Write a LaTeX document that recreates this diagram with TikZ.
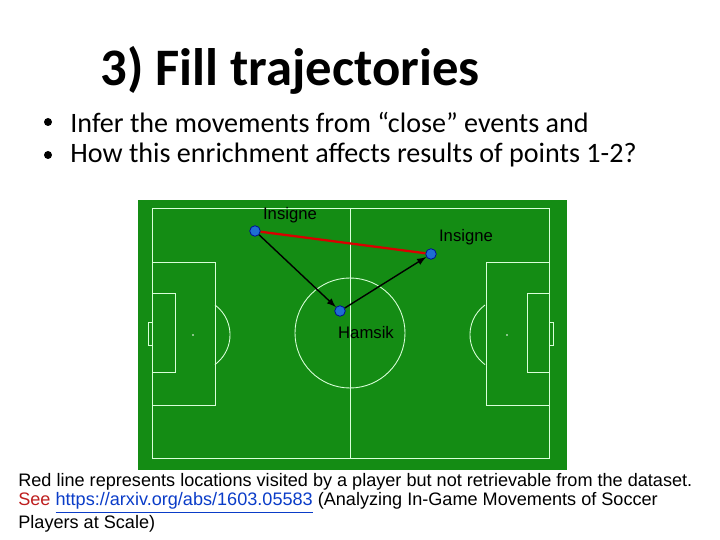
\documentclass[tikz,border=0pt]{standalone}
\usepackage{fontspec}
\setmainfont{Carlito}
\newfontfamily\arialfont{Liberation Sans}
\definecolor{pitch}{RGB}{20,140,20}
\definecolor{dot}{RGB}{30,110,210}
\definecolor{seered}{RGB}{190,30,30}
\definecolor{linkblue}{RGB}{10,60,200}
\begin{document}
\begin{tikzpicture}[x=0.02cm,y=-0.02cm,
  fieldline/.style={draw=white!85!green,line width=0.5pt},
  player/.style={circle,fill=dot,draw=blue!60!black,inner sep=0pt,minimum size=6pt},
  lbl/.style={font=\arialfont\fontsize{9.5}{11}\selectfont,inner sep=0pt},
  bullet/.style={font=\fontsize{16}{18}\selectfont,anchor=west,inner sep=0pt}]
  \useasboundingbox (0,0) rectangle (720,540);
  \node[font=\bfseries\fontsize{30}{34}\selectfont,anchor=west,inner sep=0pt] (title) at (100,70) {3) Fill trajectories};
  \node[bullet] (b1) at (70,122) {Infer the movements from “close” events and};
  \node[bullet] (b2) at (70,155) {How this enrichment affects results of points 1-2?};
  \fill (48,122) circle (4);
  \fill (48,155) circle (4);
  % pitch
  \fill[pitch] (138,200) rectangle (567,470);
  \draw[fieldline] (152,208) rectangle (549,458);
  \draw[fieldline] (350,208) -- (350,458);
  \draw[fieldline] (350,333) circle (55);
  \draw[fieldline] (152,262) rectangle (215,405);
  \draw[fieldline] (152,293) rectangle (175,372);
  \draw[fieldline] (148,322) rectangle (152,345);
  \draw[fieldline] (215,305) arc (-53.6:53.6:37);
  \draw[fieldline] (486,262) rectangle (549,405);
  \draw[fieldline] (527,293) rectangle (549,372);
  \draw[fieldline] (549,322) rectangle (553,345);
  \draw[fieldline] (485,305) arc (233.6:126.4:37);
  \fill[white] (193,335) circle (0.8) (507,335) circle (0.8);
  % players
  \node[player] (p1) at (255,231) {};
  \node[player] (p2) at (431,254) {};
  \node[player] (p3) at (340,311) {};
  \draw[red!85!black,line width=1.3pt] (p1) -- (p2);
  \draw[-latex,line width=0.8pt] (p1) -- (p3);
  \draw[-latex,line width=0.8pt] (p3) -- (p2);
  \node[lbl] (l1) at (290,215) {Insigne};
  \node[lbl] (l2) at (466,237) {Insigne};
  \node[lbl] (l3) at (366,333) {Hamsik};
  % caption
  \begin{scope}[every node/.style={anchor=west,inner sep=0pt,font=\arialfont\fontsize{10.3}{12}\selectfont}]
    \node (c1) at (18,482) {Red line represents locations visited by a player but not retrievable from the dataset.};
    \node (c2) at (18,503) {\textcolor{seered}{See} \textcolor{linkblue}{\underline{https://arxiv.org/abs/1603.05583}} (Analyzing In-Game Movements of Soccer};
    \node (c3) at (18,524) {Players at Scale)};
  \end{scope}
\end{tikzpicture}
\end{document}
